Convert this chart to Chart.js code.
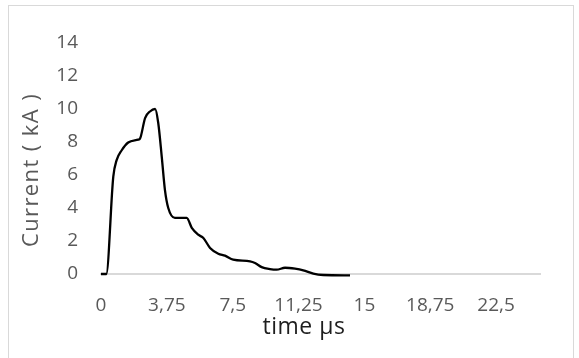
<!DOCTYPE html>
<html>
<head>
<meta charset="utf-8">
<script src="https://cdn.jsdelivr.net/npm/chart.js@4/dist/chart.umd.min.js"></script>
<style>
  html, body { margin: 0; padding: 0; background: #fff; }
  #wrap { position: relative; width: 579px; height: 358px; overflow: hidden; }
  #frame { position: absolute; left: 8px; top: 5px; width: 566px; height: 400px; border: 1px solid #d9d9d9; box-sizing: border-box; }
  #chart { position: absolute; left: 0; top: 0; }
</style>
</head>
<body>
<div id="wrap">
  <div id="frame"></div>
  <canvas id="chart" width="579" height="358"></canvas>
</div>
<script>
// Current waveform, time in µs and current in kA
const timeUs = [0, 0.3, 0.7, 0.89, 1.18, 1.55, 2.12, 2.22, 2.51, 2.79, 3.08, 3.26, 3.46, 3.64, 3.83, 4.21, 4.88, 5.17, 5.54, 5.83, 6.21, 6.68, 7.06, 7.53, 8.49, 8.77, 9.15, 9.62, 10.0, 10.48, 11.05, 11.52, 12.09, 12.66, 14.18];
const currentKA = [0, 0, 5.9, 6.9, 7.5, 7.97, 8.14, 8.2, 9.45, 9.85, 10.0, 9.15, 7.1, 5.1, 4.0, 3.4, 3.4, 2.8, 2.38, 2.18, 1.58, 1.23, 1.11, 0.87, 0.77, 0.67, 0.42, 0.3, 0.26, 0.38, 0.32, 0.22, 0.02, -0.06, -0.08];

// axis ticks
const xTicks = [0, 3.75, 7.5, 11.25, 15, 18.75, 22.5];
const yTicks = [0, 2, 4, 6, 8, 10, 12, 14];

const xTitle = 'time µs';
const yTitle = 'Current ( kA )';

const tickFont = { family: 'Open Sans', size: 19 };
const grey = '#595959';

// axis titles placed like the spreadsheet layout
const axisTitles = {
  id: 'axisTitles',
  afterDraw(chart) {
    const ctx = chart.ctx;
    const area = chart.chartArea;
    ctx.save();
    ctx.textAlign = 'center';
    ctx.textBaseline = 'middle';
    ctx.fillStyle = '#1e1e1e';
    ctx.font = '23px "Open Sans"';
    ctx.letterSpacing = '0.5px';
    ctx.fillText(xTitle, area.left + 203, 327);
    ctx.translate(32, 170);
    ctx.rotate(-Math.PI / 2);
    ctx.fillStyle = grey;
    ctx.font = '22px "Open Sans"';
    ctx.letterSpacing = '1.4px';
    ctx.fillText(yTitle, 0, 0);
    ctx.restore();
  }
};

new Chart(document.getElementById('chart'), {
  type: 'line',
  data: {
    datasets: [{
      data: timeUs.map((t, i) => ({ x: t, y: currentKA[i] })),
      borderColor: '#000',
      borderWidth: 2.3,
      pointRadius: 0,
      cubicInterpolationMode: 'monotone',
      clip: 6
    }]
  },
  options: {
    responsive: false,
    animation: false,
    events: [],
    layout: { padding: { top: 43, right: 39, left: 0, bottom: 0 } },
    plugins: { legend: { display: false }, tooltip: { enabled: false } },
    scales: {
      x: {
        type: 'linear',
        min: 0,
        max: 25,
        afterBuildTicks: s => { s.ticks = xTicks.map(v => ({ value: v })); },
        afterFit: s => { s.height = 84; },
        grid: { display: false, drawTicks: false },
        border: { display: true, color: '#d9d9d9', width: 2 },
        ticks: {
          color: grey,
          font: tickFont,
          padding: 20,
          maxRotation: 0,
          autoSkip: false,
          callback: v => String(v).replace('.', ',')
        }
      },
      y: {
        min: 0,
        max: 14,
        afterBuildTicks: s => { s.ticks = yTicks.map(v => ({ value: v })); },
        afterFit: s => { s.width = 101; },
        grid: { display: false, drawTicks: false },
        border: { display: false },
        ticks: { color: grey, font: tickFont, padding: 23 }
      }
    }
  },
  plugins: [axisTitles]
});
</script>
</body>
</html>
